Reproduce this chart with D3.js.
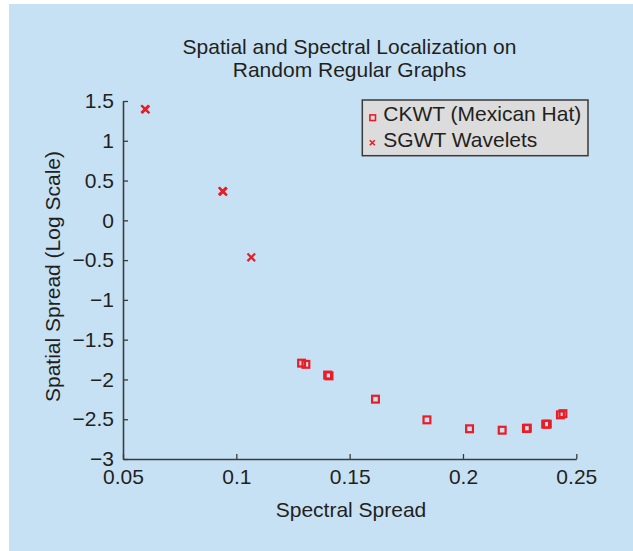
<!DOCTYPE html>
<html>
<head>
<meta charset="utf-8">
<script src="https://cdn.jsdelivr.net/npm/d3@7/dist/d3.min.js"></script>
<style>
  html, body { margin: 0; padding: 0; background: #ffffff; }
  svg { display: block; }
  text { font-family: "Liberation Sans", Arial, Helvetica, sans-serif; fill: #231f20; }
</style>
</head>
<body>
<svg id="chart" width="633" height="551"></svg>
<script>
// ---- Data ----
const titleLines = ["Spatial and Spectral Localization on", "Random Regular Graphs"];
const xLabel = "Spectral Spread";
const yLabel = "Spatial Spread (Log Scale)";
const seriesNames = ["CKWT (Mexican Hat)", "SGWT Wavelets"];

const ckwtX = [0.1288, 0.1307, 0.1403, 0.1409, 0.1614, 0.1841, 0.2029, 0.2173, 0.2280, 0.2284, 0.2365, 0.2372, 0.2430, 0.2441];
const ckwtY = [-1.795, -1.810, -1.945, -1.955, -2.248, -2.508, -2.620, -2.638, -2.616, -2.612, -2.562, -2.562, -2.445, -2.430];

const sgwtX = [0.0597, 0.0600, 0.0939, 0.0942, 0.1066];
const sgwtY = [1.400, 1.393, 0.368, 0.360, -0.465];

const xTicks = [0.05, 0.1, 0.15, 0.2, 0.25];
const xTickLabels = ["0.05", "0.1", "0.15", "0.2", "0.25"];
const yTicks = [1.5, 1, 0.5, 0, -0.5, -1, -1.5, -2, -2.5, -3];
const yTickLabels = ["1.5", "1", "0.5", "0", "\u22120.5", "\u22121", "\u22121.5", "\u22122", "\u22122.5", "\u22123"];

// ---- Drawing ----
const svg = d3.select("#chart");
const red = "#ec1c24";
const ink = "#231f20";
const axisColor = "#3c3c3c";

svg.append("rect").attr("x", 9).attr("y", 4).attr("width", 633 - 9).attr("height", 551 - 4)
  .attr("fill", "#c7e1f4");

const x = d3.scaleLinear().domain([0.05, 0.25]).range([123, 576.3]);
const y = d3.scaleLinear().domain([-3, 1.5]).range([459, 101]);

const fs = 21;

// title
svg.append("text").attr("x", 349.5).attr("y", 54).attr("text-anchor", "middle")
  .style("font-size", fs + "px").text(titleLines[0]);
svg.append("text").attr("x", 349.5).attr("y", 76.7).attr("text-anchor", "middle")
  .style("font-size", fs + "px").text(titleLines[1]);

// axes
const xAxis = d3.axisBottom(x).tickValues(xTicks)
  .tickFormat((d, i) => xTickLabels[i]).tickSizeInner(-5).tickSizeOuter(0).tickPadding(10.4);
const yAxis = d3.axisLeft(y).tickValues(yTicks)
  .tickFormat((d, i) => yTickLabels[i]).tickSizeInner(-5).tickSizeOuter(0).tickPadding(9);

const gx = svg.append("g").attr("transform", `translate(0,${y(-3)})`).call(xAxis);
const gy = svg.append("g").attr("transform", `translate(${x(0.05)},0)`).call(yAxis);

[gx, gy].forEach(g => {
  g.select(".domain").attr("stroke", axisColor).attr("stroke-width", 1.6);
  g.selectAll(".tick line").attr("stroke", axisColor).attr("stroke-width", 1.3);
  g.selectAll(".tick text").style("font-size", fs + "px")
    .style("font-family", '"Liberation Sans", Arial, sans-serif').attr("fill", ink);
});

// axis labels
svg.append("text").attr("x", 351).attr("y", 516.5).attr("text-anchor", "middle")
  .style("font-size", fs + "px").text(xLabel);
svg.append("text").attr("transform", "translate(60,276.5) rotate(-90)").attr("text-anchor", "middle")
  .style("font-size", fs + "px").text(yLabel);

// markers
const sq = 6.8;
svg.append("g").selectAll("rect").data(ckwtX.map((v, i) => [v, ckwtY[i]])).join("rect")
  .attr("x", d => x(d[0]) - sq / 2).attr("y", d => y(d[1]) - sq / 2)
  .attr("width", sq).attr("height", sq)
  .attr("fill", "none").attr("stroke", red).attr("stroke-width", 2.2);

const cr = 3.8;
svg.append("g").selectAll("path").data(sgwtX.map((v, i) => [v, sgwtY[i]])).join("path")
  .attr("d", d => {
    const cx = x(d[0]), cy = y(d[1]);
    return `M${cx - cr},${cy - cr}L${cx + cr},${cy + cr}M${cx - cr},${cy + cr}L${cx + cr},${cy - cr}`;
  })
  .attr("fill", "none").attr("stroke", red).attr("stroke-width", 2.2);

// legend
const lg = svg.append("g");
lg.append("rect").attr("x", 362.3).attr("y", 100).attr("width", 225.7).attr("height", 55.7)
  .attr("fill", "#dcdcdc").attr("stroke", "#3a3a3a").attr("stroke-width", 1.5);
lg.append("rect").attr("x", 372.7 - 2.8).attr("y", 117.7 - 2.8).attr("width", 5.6).attr("height", 5.6)
  .attr("fill", "none").attr("stroke", red).attr("stroke-width", 1.6);
const lcx = 372.3, lcy = 142.7, lr = 2.5;
lg.append("path")
  .attr("d", `M${lcx - lr},${lcy - lr}L${lcx + lr},${lcy + lr}M${lcx - lr},${lcy + lr}L${lcx + lr},${lcy - lr}`)
  .attr("stroke", red).attr("stroke-width", 1.6);
lg.append("text").attr("x", 383.3).attr("y", 120.7).style("font-size", fs + "px").text(seriesNames[0]);
lg.append("text").attr("x", 383.3).attr("y", 146.7).style("font-size", fs + "px").text(seriesNames[1]);
</script>
</body>
</html>
